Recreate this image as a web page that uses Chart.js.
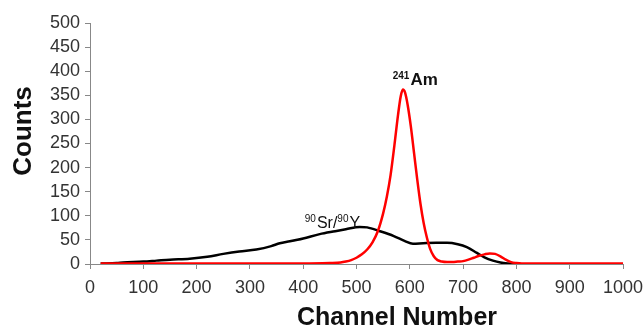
<!DOCTYPE html>
<html>
<head>
<meta charset="utf-8">
<script src="https://cdn.jsdelivr.net/npm/chart.js@4"></script>
<style>
  html, body { margin: 0; padding: 0; background: #fff; }
  #chart { display: block; }
</style>
</head>
<body>
<canvas id="chart" width="643" height="329"></canvas>
<script>
// Am-241 spectrum (red)
const amChannel = [20, 100, 200, 300, 400, 450, 470, 480, 490, 500, 510, 520, 530, 540, 550, 557, 564, 571, 578, 583, 587, 591, 596, 602, 608, 614, 620, 626, 632, 638, 645, 652, 660, 670, 680, 690, 700, 710, 720, 730, 740, 750, 760, 770, 780, 790, 800, 810, 820, 900, 1000];
const amCounts  = [1, 1, 1, 1, 1, 2, 3, 5, 8, 13, 20, 30, 45, 68, 105, 140, 185, 245, 310, 348, 362, 356, 330, 285, 230, 175, 125, 85, 55, 32, 16, 8, 5, 4, 4, 5, 6, 9, 13, 17, 20, 22, 21, 16, 9, 4, 2, 1, 1, 1, 1];

// Sr-90/Y-90 spectrum (black)
const srChannel = [20, 50, 62, 100, 125, 150, 187, 220, 250, 280, 312, 340, 356, 375, 400, 431, 460, 480, 506, 520, 544, 570, 590, 606, 625, 650, 670, 690, 707, 726, 740, 756, 770, 785, 800];
const srCounts  = [1, 2, 3, 5, 7, 9, 11, 15, 21, 26, 30, 37, 43, 47, 53, 62, 68, 72, 77, 76, 68, 58, 48, 42, 43, 44, 44, 41, 35, 23, 14, 7, 3, 1, 0];

const xTicks = [0, 100, 200, 300, 400, 500, 600, 700, 800, 900, 1000];
const yTicks = [0, 50, 100, 150, 200, 250, 300, 350, 400, 450, 500];

const FONT = "'Liberation Sans', Arial, sans-serif";

const toPoints = (xs, ys) => xs.map((x, i) => ({ x: x, y: ys[i] }));

// labels drawn on the canvas: titles and the two isotope names
const textPlugin = {
    id: 'texts',
    afterDraw(chart) {
        const ctx = chart.ctx;
        const sx = chart.scales.x, sy = chart.scales.y;
        ctx.save();
        ctx.fillStyle = '#111';

        // axis titles
        ctx.font = 'bold 25px ' + FONT;
        ctx.textAlign = 'center';
        ctx.textBaseline = 'alphabetic';
        ctx.fillText('Channel Number', 397, 325);

        ctx.save();
        ctx.translate(31, 131);
        ctx.rotate(-Math.PI / 2);
        ctx.font = 'bold 26px ' + FONT;
        ctx.fillText('Counts', 0, 0);
        ctx.restore();

        // 241Am above the red peak
        ctx.textAlign = 'left';
        let x = sx.getPixelForValue(568), y = sy.getPixelForValue(372);
        ctx.font = 'bold 10px ' + FONT;
        ctx.fillText('241', x, y - 6);
        x += ctx.measureText('241').width + 1;
        ctx.font = 'bold 17px ' + FONT;
        ctx.fillText('Am', x, y);

        // 90Sr/90Y above the black hump
        x = sx.getPixelForValue(403); y = sy.getPixelForValue(74);
        ctx.font = '10px ' + FONT;
        ctx.fillText('90', x, y - 6);
        x += ctx.measureText('90').width + 1;
        ctx.font = '16px ' + FONT;
        ctx.fillText('Sr/', x, y);
        x += ctx.measureText('Sr/').width;
        ctx.font = '10px ' + FONT;
        ctx.fillText('90', x, y - 6);
        x += ctx.measureText('90').width + 1;
        ctx.font = '16px ' + FONT;
        ctx.fillText('Y', x, y);
        ctx.restore();
    }
};

new Chart(document.getElementById('chart').getContext('2d'), {
    type: 'line',
    data: {
        datasets: [
            {
                label: '241Am',
                data: toPoints(amChannel, amCounts),
                borderColor: '#ff0000',
                borderWidth: 2.5,
                pointRadius: 0,
                cubicInterpolationMode: 'monotone',
                fill: false
            },
            {
                label: '90Sr/90Y',
                data: toPoints(srChannel, srCounts),
                borderColor: '#000000',
                borderWidth: 2.5,
                pointRadius: 0,
                cubicInterpolationMode: 'monotone',
                fill: false
            }
        ]
    },
    options: {
        responsive: false,
        animation: false,
        layout: { padding: { top: 23, right: 0, left: 0, bottom: 0 } },
        plugins: {
            legend: { display: false },
            tooltip: { enabled: false },
            title: { display: false }
        },
        scales: {
            x: {
                type: 'linear',
                min: 0,
                max: 1000,
                afterBuildTicks: s => { s.ticks = xTicks.map(v => ({ value: v })); },
                afterFit: s => { s.height = 65; s.paddingRight = 20; },
                ticks: { color: '#333', font: { family: FONT, size: 18 }, padding: 8, maxRotation: 0, autoSkip: false, callback: v => String(v) },
                grid: { drawOnChartArea: false, drawTicks: true, tickLength: 5, color: '#888' },
                border: { display: true, color: '#888', width: 1 }
            },
            y: {
                min: 0,
                max: 500,
                afterBuildTicks: s => { s.ticks = yTicks.map(v => ({ value: v })); },
                afterFit: s => { s.width = 90; },
                ticks: { color: '#333', font: { family: FONT, size: 18 }, padding: 5, autoSkip: false, callback: v => String(v) },
                grid: { drawOnChartArea: false, drawTicks: true, tickLength: 5, color: '#888' },
                border: { display: true, color: '#888', width: 1 }
            }
        }
    },
    plugins: [textPlugin]
});
</script>
</body>
</html>
